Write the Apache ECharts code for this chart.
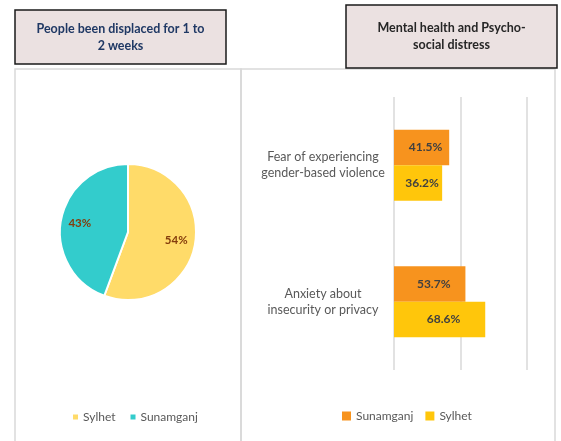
<!DOCTYPE html>
<html>
<head>
<meta charset="utf-8">
<title>Displacement and distress</title>
<script src="https://cdn.jsdelivr.net/npm/echarts@6/dist/echarts.min.js"></script>
<style>
  html, body { margin: 0; padding: 0; background: #fff; }
  #main { width: 561px; height: 441px; }
</style>
</head>
<body>
<div id="main"></div>
<script>
// pie data
var pieNames = ['Sylhet', 'Sunamganj'];
var pieValues = [54, 43];
var pieColors = ['#FFDB69', '#33CCCC'];

// bar data (bottom category first)
var barCats = ['Anxiety about\ninsecurity or privacy', 'Fear of experiencing\ngender-based violence'];
var sunamganjVals = [53.7, 41.5];
var sylhetVals = [68.6, 36.2];
var barColors = { Sunamganj: '#F7931E', Sylhet: '#FFC60B' };

var font = 'Lato, "Liberation Sans", sans-serif';
var chart = echarts.init(document.getElementById('main'));

var pieData = pieNames.map(function (n, i) {
  return { name: n, value: pieValues[i], itemStyle: { color: pieColors[i] } };
});

function titleBox(x, y, w, h, lines, color) {
  return {
    type: 'group',
    children: [
      { type: 'rect', shape: { x: x, y: y, width: w, height: h },
        style: { fill: '#EBE1E1', stroke: '#1a1a1a', lineWidth: 1.5 } },
      { type: 'text', x: x + w / 2, y: y + h / 2,
        style: { text: lines, fill: color, font: 'bold 12.5px ' + font,
                 align: 'center', verticalAlign: 'middle', lineHeight: 17 } }
    ]
  };
}

var option = {
  textStyle: { fontFamily: font },
  animation: false,
  graphic: [
    { type: 'rect', z: -1, shape: { x: 15, y: 69, width: 226, height: 390 },
      style: { fill: 'none', stroke: '#D9D9D9', lineWidth: 1.5 } },
    { type: 'rect', z: -1, shape: { x: 241, y: 69, width: 314, height: 390 },
      style: { fill: 'none', stroke: '#D9D9D9', lineWidth: 1.5 } },
    titleBox(15, 10, 211, 54, 'People been displaced for 1 to\n2 weeks', '#1F3864'),
    titleBox(346, 5, 211, 63, 'Mental health and Psycho-\nsocial distress', '#262626')
  ],
  legend: [
    {
      left: 68, top: 406, icon: 'rect', itemWidth: 5, itemHeight: 5, itemGap: 15,
      textStyle: { color: '#595959', fontSize: 12, fontFamily: font },
      data: [
        { name: 'Sylhet', itemStyle: { color: pieColors[0] } },
        { name: 'Sunamganj', itemStyle: { color: pieColors[1] } }
      ]
    },
    {
      left: 337, top: 405, icon: 'rect', itemWidth: 9, itemHeight: 9, itemGap: 12,
      textStyle: { color: '#595959', fontSize: 12, fontFamily: font },
      data: [
        { name: 'Sunamganj', itemStyle: { color: barColors.Sunamganj } },
        { name: 'Sylhet', itemStyle: { color: barColors.Sylhet } }
      ]
    }
  ],
  grid: { left: 394, right: 34, top: 97, bottom: 71 },
  xAxis: {
    type: 'value', min: 0, max: 100, interval: 50,
    axisLabel: { show: false }, axisLine: { show: false }, axisTick: { show: false },
    splitLine: { lineStyle: { color: '#D9D9D9', width: 1.5 } }
  },
  yAxis: {
    type: 'category', data: barCats,
    axisLine: { show: false }, axisTick: { show: false },
    axisLabel: { align: 'center', margin: 71, color: '#595959', fontSize: 12.5,
                 lineHeight: 16, fontFamily: font }
  },
  series: [
    {
      type: 'pie', center: [128, 232], radius: [0, 68], clockwise: true, startAngle: 90,
      data: pieData, label: { show: false }, labelLine: { show: false },
      itemStyle: { borderColor: '#fff', borderWidth: 2 }
    },
    {
      type: 'pie', center: [128, 232], radius: [24, 68], silent: true, legendHoverLink: false,
      data: pieNames.map(function (n, i) {
        return { name: n, value: pieValues[i], itemStyle: { color: 'rgba(0,0,0,0)' } };
      }),
      label: { show: true, position: 'inside', formatter: '{c}%', color: '#843C0C',
               fontWeight: 'bold', fontSize: 11.5, fontFamily: font },
      labelLine: { show: false }
    },
    {
      name: 'Sunamganj', type: 'bar', data: sunamganjVals, barGap: '0%', barCategoryGap: '48%',
      itemStyle: { color: barColors.Sunamganj },
      label: { show: true, position: 'inside', offset: [4, 0], formatter: '{c}%',
               color: '#404040', fontWeight: 'bold', fontSize: 12, fontFamily: font }
    },
    {
      name: 'Sylhet', type: 'bar', data: sylhetVals, barGap: '0%', barCategoryGap: '48%',
      itemStyle: { color: barColors.Sylhet },
      label: { show: true, position: 'inside', offset: [4, 0], formatter: '{c}%',
               color: '#404040', fontWeight: 'bold', fontSize: 12, fontFamily: font }
    }
  ]
};

chart.setOption(option);
</script>
</body>
</html>
